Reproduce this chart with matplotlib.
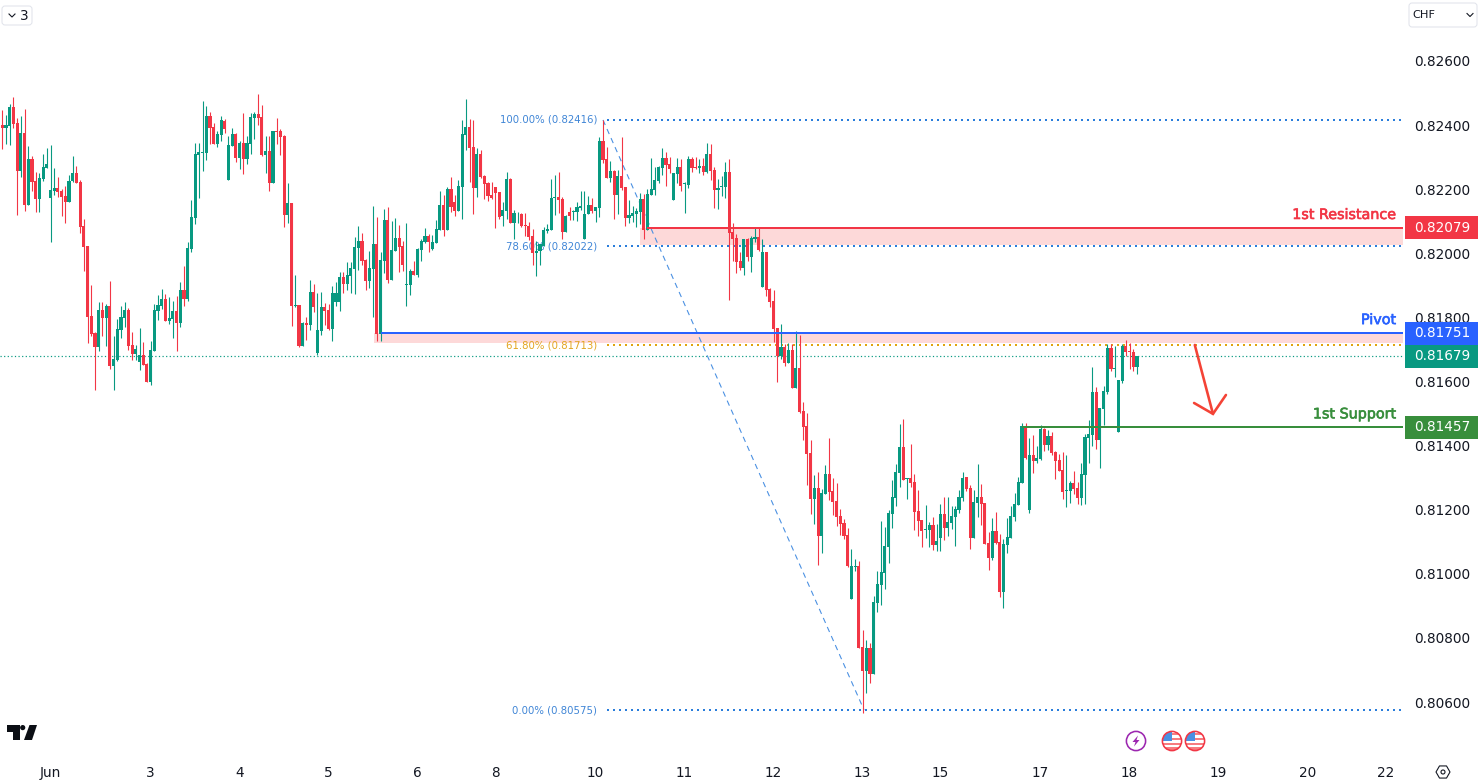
#!/usr/bin/env python3
"""
USD/CHF hourly candlestick chart with pivot, support, resistance and Fibonacci levels
"""

import matplotlib
matplotlib.use('Agg')
import matplotlib.pyplot as plt
import matplotlib.patheffects as pe
from matplotlib.patches import Rectangle, FancyBboxPatch, Circle, Polygon
import numpy as np

# hourly bars, prices in 1e-5 units
opens = [
    82392,82401,82392,82398,82456,82407,82258,82376,82151,82294,
    82226,82170,82232,82266,82173,82195,82204,82195,82179,82160,
    82226,82251,82223,82085,82023,81805,81752,81708,81823,81798,
    81836,81649,81667,81761,81798,81823,81714,81686,81661,81683,
    81655,81599,81695,81820,81836,81858,81789,81795,81820,81783,
    81886,81858,82014,82110,82307,82313,82313,82429,82394,82341,
    82369,82413,82229,82335,82373,82298,82344,82295,82341,82422,
    82435,82426,82307,82319,82220,82382,82382,82366,82120,82157,
    81834,81839,81711,81783,81777,81880,81688,81758,81833,81823,
    81764,81848,81848,81926,81905,81929,81951,82017,82039,81979,
    81914,81951,82029,81749,81976,82104,81917,82007,82048,82023,
    81901,81901,81945,81933,82011,82036,82054,82014,82032,82073,
    82151,82073,82201,82160,82132,82207,82369,82394,82332,82204,
    82310,82241,82220,82182,82207,82192,82117,82132,82232,82094,
    82122,82123,82089,82085,82054,82000,82007,82023,82070,82073,
    82173,82176,82170,82067,82129,82129,82129,82142,82045,82123,
    82151,82132,82141,82350,82294,82235,82257,82182,82241,82207,
    82110,82117,82123,82129,82170,82073,82182,82198,82226,82266,
    82297,82279,82166,82248,82269,82216,82213,82294,82269,82266,
    82272,82254,82310,82260,82198,82207,82207,82254,82067,82048,
    81976,81954,82045,81989,82045,82051,81895,82004,81889,81851,
    81767,81680,81708,81658,81698,81580,81642,81508,81461,81377,
    81234,81268,81118,81249,81312,81258,81227,81180,81159,81121,
    80922,81021,81024,80772,80697,80769,80688,80909,80965,81003,
    81084,81187,81237,81315,81396,81296,81299,81287,81196,81168,
    81137,81137,81152,81090,81112,81187,81143,81159,81177,81199,
    81237,81302,81268,81112,81221,81240,81221,81096,81050,81134,
    81100,80944,81090,81112,81178,81215,81284,81458,81199,81371,
    81352,81359,81452,81402,81430,81380,81355,81324,81259,81259,
    81284,81268,81237,81309,81424,81433,81568,81418,81514,81568,
    81705,81639,81443,81602,81711,81694,81692,81645,
]
highs = [
    82406,82447,82432,82466,82487,82422,82429,82451,82335,82304,
    82254,82250,82310,82329,82338,82266,82238,82201,82210,82245,
    82304,82273,82229,82107,82023,81901,81755,81848,81848,81842,
    81914,81742,81795,81836,81848,81830,81755,81714,81767,81724,
    81658,81727,81842,81870,81889,81873,81864,81851,81867,81911,
    81961,82036,82167,82344,82344,82475,82460,82441,82407,82382,
    82429,82419,82366,82391,82376,82351,82438,82366,82438,82441,
    82497,82463,82366,82366,82382,82422,82388,82369,82220,82157,
    81933,81839,81786,81802,81917,81905,81876,81880,81845,81842,
    81898,81911,81942,81942,81973,81973,82051,82085,82064,81983,
    82007,82148,82114,82004,82138,82145,82101,82110,82089,82039,
    82095,81951,81976,82017,82045,82079,82060,82057,82104,82195,
    82182,82207,82238,82182,82229,82416,82482,82419,82416,82329,
    82323,82245,82223,82223,82207,82192,82160,82254,82235,82135,
    82130,82126,82126,82098,82076,82039,82029,82082,82092,82232,
    82245,82254,82176,82120,82146,82135,82160,82195,82195,82179,
    82173,82144,82363,82416,82332,82288,82260,82260,82363,82207,
    82166,82148,82141,82188,82185,82201,82297,82269,82272,82329,
    82316,82300,82251,82297,82294,82223,82304,82301,82301,82294,
    82297,82344,82341,82269,82232,82241,82285,82294,82095,82060,
    82004,82045,82048,82054,82079,82079,82045,82004,81892,81886,
    81767,81780,81717,81719,81717,81758,81745,81536,81502,81418,
    81308,81318,81265,81340,81424,81299,81283,81202,81171,81143,
    81077,81046,81040,80825,80794,80784,80931,81009,81165,81146,
    81199,81293,81343,81468,81483,81299,81405,81312,81262,81168,
    81215,81162,81177,81156,81218,81240,81240,81212,81212,81262,
    81318,81302,81277,81262,81343,81280,81221,81131,81174,81193,
    81125,81109,81174,81212,81252,81302,81471,81471,81424,81433,
    81399,81465,81455,81449,81443,81383,81374,81380,81371,81290,
    81321,81287,81346,81437,81480,81646,81583,81518,81586,81717,
    81717,81711,81605,81717,81730,81720,81702,81680,
]
lows = [
    82330,82326,82341,82338,82392,82120,82239,82132,82151,82195,
    82129,82129,82226,82266,82036,82182,82176,82117,82095,82160,
    82223,82220,82064,81945,81720,81742,81574,81696,81742,81711,
    81639,81574,81664,81736,81770,81699,81667,81667,81636,81652,
    81599,81589,81695,81792,81827,81789,81780,81736,81695,81770,
    81836,81851,82004,82092,82173,82257,82291,82341,82341,82332,
    82351,82376,82229,82335,82285,82263,82248,82279,82310,82357,
    82401,82304,82251,82195,82220,82341,82307,82082,82095,81773,
    81833,81708,81711,81730,81761,81817,81683,81745,81777,81761,
    81727,81836,81820,81875,81886,81875,81873,81948,81963,81886,
    81892,81802,81727,81727,81939,81908,81917,82007,81943,81945,
    81836,81870,81933,81926,81976,82031,82004,82011,82032,82073,
    82054,82073,82129,82117,82132,82107,82323,82223,82123,82176,
    82235,82170,82163,82170,82079,82107,82085,82107,82095,82045,
    82094,82082,82054,82042,81964,81929,81964,82023,82063,82073,
    82120,82126,82045,82067,82104,82104,82101,82135,82045,82123,
    82125,82098,82113,82282,82235,82223,82107,82123,82198,82085,
    82095,82098,82082,82092,82045,82073,82182,82182,82219,82244,
    82210,82251,82166,82218,82194,82126,82204,82254,82263,82251,
    82244,82251,82229,82141,82138,82179,82173,81854,81976,81939,
    81948,81932,81976,81942,82035,82007,81895,81867,81833,81723,
    81599,81670,81648,81658,81580,81580,81502,81418,81277,81187,
    81156,81028,81065,81249,81230,81184,81149,81121,81109,81021,
    80922,81009,80769,80566,80628,80659,80688,80881,80903,80953,
    81034,81143,81212,81271,81293,81234,81271,81137,81118,81084,
    81112,81084,81074,81071,81071,81106,81118,81140,81087,81190,
    81227,81258,81078,81112,81178,81153,81093,81012,81043,81093,
    80928,80894,81065,81112,81165,81215,81284,81359,81190,81315,
    81346,81355,81383,81387,81371,81296,81321,81234,81209,81221,
    81249,81218,81215,81218,81346,81399,81390,81330,81465,81561,
    81633,81614,81443,81596,81680,81639,81633,81624,
]
closes = [
    82401,82392,82401,82456,82404,82258,82376,82151,82294,82224,
    82170,82235,82270,82279,82198,82204,82192,82176,82160,82226,
    82251,82220,82082,82020,81802,81749,81708,81823,81798,81836,
    81649,81671,81764,81802,81823,81711,81686,81702,81683,81652,
    81599,81699,81823,81839,81858,81789,81798,81820,81783,81886,
    81858,82017,82114,82310,82316,82316,82429,82391,82341,82373,
    82416,82388,82338,82373,82298,82344,82295,82344,82426,82435,
    82422,82307,82319,82220,82382,82379,82363,82120,82157,81836,
    81839,81711,81783,81777,81880,81833,81761,81833,81820,81764,
    81876,81876,81926,81905,81933,81954,82020,82039,81976,81914,
    81954,82029,81749,81979,82104,81917,82011,82048,82020,81964,
    81905,81945,81933,82014,82039,82054,82036,82036,82076,82151,
    82073,82201,82145,82132,82210,82373,82394,82329,82204,82310,
    82238,82217,82179,82173,82188,82114,82135,82232,82095,82125,
    82124,82085,82085,82051,82001,82007,82029,82073,82076,82173,
    82176,82167,82067,82117,82117,82132,82145,82148,82123,82151,
    82132,82145,82350,82291,82235,82257,82182,82241,82204,82110,
    82120,82126,82132,82170,82073,82185,82201,82229,82269,82297,
    82276,82263,82251,82269,82210,82218,82294,82266,82266,82272,
    82254,82310,82257,82198,82204,82210,82254,82063,82045,81973,
    81954,82045,81989,82048,82051,82010,82004,81886,81848,81764,
    81680,81708,81658,81698,81580,81642,81505,81458,81374,81234,
    81268,81118,81252,81312,81255,81224,81177,81156,81118,81024,
    81024,81024,80769,80697,80769,80688,80912,80968,81006,81087,
    81190,81240,81318,81396,81293,81299,81283,81193,81165,81134,
    81140,81152,81090,81102,81187,81143,81162,81180,81202,81240,
    81299,81265,81112,81224,81240,81218,81093,81050,81134,81096,
    80944,81093,81115,81181,81218,81287,81461,81362,81371,81352,
    81362,81452,81402,81430,81377,81352,81321,81256,81262,81284,
    81265,81237,81312,81427,81437,81568,81418,81518,81571,81705,
    81639,81642,81605,81711,81692,81691,81645,81679,
]

# time axis
day_ticks = [14, 41, 65, 89, 113, 134, 161, 185, 209, 233, 254, 281, 305, 329, 353, 374]
day_labels = ['Jun', '3', '4', '5', '6', '8', '10', '11', '12', '13', '15', '17', '18', '19', '20', '22']

# price axis
price_ticks = [0.806, 0.808, 0.810, 0.812, 0.814, 0.816, 0.818, 0.820, 0.822, 0.824, 0.826]

# levels
resistance = 0.82079
resistance_floor = 0.82026
pivot = 0.81751
pivot_floor = 0.81721
support = 0.81457
last_price = 0.81679

fib_labels = ['100.00%', '78.60%', '61.80%', '0.00%']
fib_prices = [0.82416, 0.82022, 0.81713, 0.80575]

# projected move arrow, (bar, price)
arrow_shaft = [(322.6, 0.81714), (327.5, 0.81499)]
arrow_wings = [(322.4, 0.81533), (327.5, 0.81499), (331.0, 0.81558)]

GREEN = '#089981'
RED = '#F23645'
BLUE = '#2962FF'
SUPPORT_GREEN = '#388E3C'
ZONE = '#FDD9D9'
FIB_BLUE = '#2A7DDB'
FIB_LABEL_BLUE = '#3F85D6'
FIB_ORANGE = '#E0A40F'
FIB_LABEL_ORANGE = '#E2A520'
TEXT = '#131722'
PX = 0.72  # one pixel in points at dpi 100

plt.rcParams['font.family'] = ['DejaVu Sans']

W, H = 1480, 784
PANE_W, PANE_H = 1403, 757
xmin, xmax = 0.378, 378.75
ymin, ymax = 0.804284, 0.827903

fig = plt.figure(figsize=(W / 100, H / 100), dpi=100, facecolor='white')
ax = fig.add_axes([0, (H - PANE_H) / H, PANE_W / W, PANE_H / H])
ax.set_xlim(xmin, xmax)
ax.set_ylim(ymin, ymax)
for spine in ax.spines.values():
    spine.set_visible(False)

# zones go under everything else
ax.add_patch(Rectangle((173, resistance_floor), xmax - 173, resistance - resistance_floor,
                       facecolor=ZONE, edgecolor='none', zorder=1))
ax.add_patch(Rectangle((101.3, pivot_floor), xmax - 101.3, pivot - pivot_floor,
                       facecolor=ZONE, edgecolor='none', zorder=1))

# current price line
ax.plot([xmin, xmax], [last_price, last_price], color=GREEN, lw=PX * 1.2,
        linestyle=(0, (1, 2)), dash_capstyle='butt', zorder=2)

# fib retracement trend line and levels
ax.plot([163, 233.4], [fib_prices[0], fib_prices[-1]], color='#4A90E2', lw=PX * 1.1,
        linestyle=(0, (5, 4)), zorder=2)
for name, price in zip(fib_labels, fib_prices):
    orange = name == '61.80%'
    ax.plot([164, xmax - 0.5], [price, price], color=FIB_ORANGE if orange else FIB_BLUE,
            lw=PX * 2, linestyle=(0, (1, 2)), dash_capstyle='butt', zorder=2)
    ax.text(161.4, price, f'{name} ({price:.5f})', ha='right', va='center', fontsize=7.3,
            color=FIB_LABEL_ORANGE if orange else FIB_LABEL_BLUE, zorder=2)

# candles
o = np.array(opens) / 1e5
h = np.array(highs) / 1e5
l = np.array(lows) / 1e5
c = np.array(closes) / 1e5
x = np.arange(len(o))
colors = [GREEN if close >= open_ else RED for open_, close in zip(o, c)]
ax.vlines(x, l, h, colors=colors, linewidth=PX * 1.1, zorder=3)
ax.bar(x, np.abs(c - o), bottom=np.minimum(o, c), width=0.84, color=colors, linewidth=0, zorder=4)

# level lines
ax.plot([175, xmax], [resistance, resistance], color=RED, lw=PX * 2, solid_capstyle='butt', zorder=5)
ax.plot([103, xmax], [pivot, pivot], color=BLUE, lw=PX * 2, solid_capstyle='butt', zorder=5)
ax.plot([276, xmax], [support, support], color=SUPPORT_GREEN, lw=PX * 2, solid_capstyle='butt', zorder=5)

# level names above the lines, thickened a little with a thin stroke
for text, price, color in [('1st Resistance', resistance, RED), ('Pivot', pivot, BLUE),
                           ('1st Support', support, SUPPORT_GREEN)]:
    label = ax.annotate(text, xy=(xmax, price), xytext=(-7 * PX, 13 * PX), textcoords='offset points',
                        ha='right', va='center', fontsize=10.3, color=color, zorder=6)
    label.set_path_effects([pe.withStroke(linewidth=0.45, foreground=color)])

# projected move
ax.plot(*zip(*arrow_shaft), color='#F44336', lw=PX * 2.6, solid_capstyle='round', zorder=6)
ax.plot(*zip(*arrow_wings), color='#F44336', lw=PX * 2.6, solid_capstyle='round',
        solid_joinstyle='miter', zorder=6)

ax.set_yticks([])
ax.set_xticks(day_ticks)
ax.set_xticklabels(day_labels, fontsize=9.8, color=TEXT)
ax.tick_params(axis='x', length=0, pad=6.5)

# price scale with value tags
axp = fig.add_axes([PANE_W / W, (H - PANE_H) / H, (W - PANE_W) / W, PANE_H / H])
axp.set_xlim(0, W - PANE_W)
axp.set_ylim(ymin, ymax)
axp.set_xticks([])
axp.set_axisbelow(True)
for spine in axp.spines.values():
    spine.set_visible(False)
axp.set_yticks(price_ticks)
axp.set_yticklabels([f'{p:.5f}' for p in price_ticks], fontsize=9.8, color=TEXT, ha='left')
axp.tick_params(axis='y', length=0, pad=-7.9)

tag_h = 23 * (ymax - ymin) / PANE_H
for price, color in [(resistance, RED), (last_price, GREEN), (pivot, BLUE), (support, SUPPORT_GREEN)]:
    axp.add_patch(Rectangle((2, price - tag_h / 2), 73, tag_h, facecolor=color, edgecolor='none', zorder=3))
    axp.text(11, price, f'{price:.5f}', ha='left', va='center', fontsize=9.8, color='white', zorder=4)

# widgets and logo, laid out in pixels
ov = fig.add_axes([0, 0, 1, 1], facecolor='none')
ov.set_xlim(0, W)
ov.set_ylim(H, 0)
ov.axis('off')


def rounded_box(x0, y0, w, h_):
    ov.add_patch(FancyBboxPatch((x0, y0), w, h_, boxstyle='round,pad=0,rounding_size=3',
                                facecolor='white', edgecolor='#E0E3EB', lw=PX))


def chevron(cx, cy, size=3):
    ov.plot([cx - size, cx, cx + size], [cy - size / 2, cy + size / 2, cy - size / 2],
            color=TEXT, lw=PX * 1.1)


rounded_box(2, 6, 30, 19)
chevron(12, 15.5)
ov.text(24.5, 15.5, '3', ha='center', va='center', fontsize=9.8, color=TEXT)

rounded_box(1409, 3, 68, 24)
ov.text(1412, 15, 'CHF', ha='left', va='center', fontsize=8.2, color=TEXT)
chevron(1470, 15)

# logo mark
ov.add_patch(Polygon([(7, 725), (20, 725), (20, 740), (13, 740), (13, 732), (7, 732)], color='#0B0E14', lw=0))
ov.add_patch(Circle((22.7, 727.6), 2.6, color='#0B0E14', lw=0))
ov.add_patch(Polygon([(29.5, 725), (37, 725), (32, 740), (24, 740)], color='#0B0E14', lw=0))

# event markers along the bottom
ov.add_patch(Circle((1136, 741), 9.6, facecolor='white', edgecolor='#9C27B0', lw=PX * 1.6))
ov.add_patch(Polygon([(1138, 735.5), (1132.5, 742), (1135.5, 742), (1134, 746.5), (1139.5, 740), (1136.5, 740)],
                     color='#9C27B0', lw=0))


def flag_marker(cx, cy):
    disc = Circle((cx, cy), 9.6, facecolor='white', edgecolor='none')
    ov.add_patch(disc)
    for top in (-8, -3.2, 1.6, 6.4):
        stripe = Rectangle((cx - 10, cy + top), 20, 2.4, facecolor='#F77C80', edgecolor='none')
        ov.add_patch(stripe)
        stripe.set_clip_path(disc)
    canton = Rectangle((cx - 10, cy - 10), 10, 10, facecolor='#4A90E2', edgecolor='none')
    ov.add_patch(canton)
    canton.set_clip_path(disc)
    ov.add_patch(Circle((cx, cy), 9.6, facecolor='none', edgecolor=RED, lw=PX * 1.6))


flag_marker(1172, 741)
flag_marker(1195, 741)

# settings icon
angles = np.deg2rad(np.arange(0, 360, 60))
ov.add_patch(Polygon(np.column_stack([1443 + 7 * np.cos(angles), 772 + 7 * np.sin(angles)]),
                     facecolor='none', edgecolor=TEXT, lw=PX * 1.1))
ov.add_patch(Circle((1443, 772), 2, facecolor='none', edgecolor=TEXT, lw=PX * 1.1))

fig.savefig('out.png', dpi=100, facecolor='white')
